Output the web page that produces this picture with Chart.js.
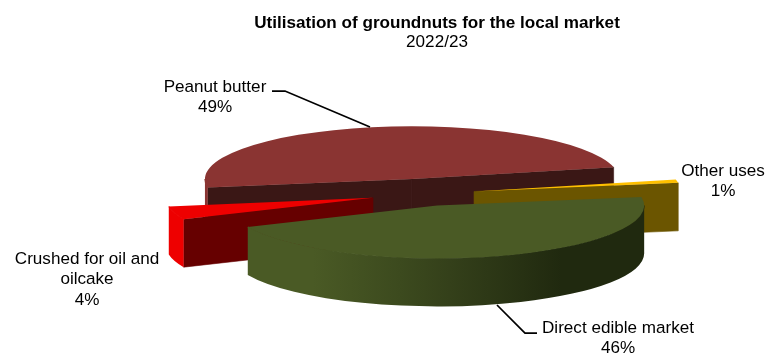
<!DOCTYPE html>
<html>
<head>
<meta charset="utf-8">
<style>
  html, body { margin: 0; padding: 0; background: #fff; overflow: hidden; }
</style>
<script src="https://cdn.jsdelivr.net/npm/chart.js@4"></script>
</head>
<body>
<canvas id="pie_chart" width="767" height="353"></canvas>
<script>
// CHART DATA
const slice_names = ['Peanut butter', 'Other uses', 'Direct edible market', 'Crushed for oil and oilcake'];
const slice_values = [49, 1, 46, 4];
const chart_title = 'Utilisation of groundnuts for the local market';
const chart_subtitle = '2022/23';

// SLICE STYLES (same order as the data)
const top_colors = ['#8a3432', '#ffc000', '#4a5a25', '#ee0000'];
const edge_colors = ['#3a1715', '#6b5500', '#20290f', '#660000'];
const explode = [60, 51.4, 47.5, 52.8];

// 3D LOOK
const pie_radius = 207;
const tilt = 0.255;
const depth = 48;
const pie_shift_x = -13.4;

// LABEL PLACES
const label_font = '17.1px "Liberation Sans"';
const label_lines = [
	{ slice: 0, x: 215, y: 87, text: ['Peanut butter'] },
	{ slice: 1, x: 723, y: 171, text: ['Other uses'] },
	{ slice: 2, x: 618, y: 328, text: ['Direct edible market'] },
	{ slice: 3, x: 87, y: 259, text: ['Crushed for oil and', 'oilcake'] }
];
const leaders = [
	[[272, 91], [285, 91], [370, 127]],
	[[497, 305], [525, 333], [537, 333]]
];

// angle ranges of the rim that face the viewer
function frontRanges(start, end) {
	let ranges = [];
	for (let k = -2; k <= 2; k++) {
		let a = Math.max(start, 2 * Math.PI * k);
		let b = Math.min(end, Math.PI + 2 * Math.PI * k);
		if (b > a) ranges.push([a, b]);
	}
	return ranges;
}

function drawSpoke(ctx, x, y, r, angle) {
	let ex = x + Math.cos(angle) * r;
	let ey = y + Math.sin(angle) * r * tilt;
	ctx.beginPath();
	ctx.moveTo(x, y);
	ctx.lineTo(ex, ey);
	ctx.lineTo(ex, ey + depth);
	ctx.lineTo(x, y + depth);
	ctx.closePath();
	ctx.fill();
	ctx.stroke(); // hides the seam where two spokes meet
}

function drawRim(ctx, x, y, r, a, b) {
	ctx.beginPath();
	ctx.ellipse(x, y, r, r * tilt, 0, a, b);
	ctx.ellipse(x, y + depth, r, r * tilt, 0, b, a, true);
	ctx.closePath();
	ctx.fill();
	// cover the seam under the top face
	ctx.beginPath();
	ctx.ellipse(x, y, r, r * tilt, 0, a, b);
	ctx.stroke();
}

function rimFill(ctx, i, x, r) {
	if (i != 2) return top_colors[i];
	// only the big green slice has the shaded rim
	let grad = ctx.createLinearGradient(x - r, 0, x + r, 0);
	grad.addColorStop(0, '#4a5a25');
	grad.addColorStop(0.2, '#4a5a25');
	grad.addColorStop(0.41, '#3c4a1e');
	grad.addColorStop(0.53, '#34401a');
	grad.addColorStop(0.8, '#20290f');
	grad.addColorStop(1, '#20290f');
	return grad;
}

const pie3d = {
	id: 'pie3d',
	beforeDatasetDraw(chart) {
		const ctx = chart.ctx;
		const arcs = chart.getDatasetMeta(0).data;
		// back to front
		[0, 1, 3, 2].forEach(i => {
			const arc = arcs[i];
			const mid = (arc.startAngle + arc.endAngle) / 2;
			const x = arc.x + pie_shift_x + Math.cos(mid) * explode[i];
			const y = arc.y + Math.sin(mid) * explode[i] * tilt;
			const r = arc.outerRadius;

			ctx.save();
			ctx.fillStyle = edge_colors[i];
			ctx.strokeStyle = edge_colors[i];
			ctx.lineWidth = 0.6;
			if (Math.cos(arc.startAngle) < 0) drawSpoke(ctx, x, y, r, arc.startAngle);
			if (Math.cos(arc.endAngle) > 0) drawSpoke(ctx, x, y, r, arc.endAngle);
			ctx.fillStyle = rimFill(ctx, i, x, r);
			ctx.strokeStyle = ctx.fillStyle;
			ctx.lineWidth = 1.2;
			frontRanges(arc.startAngle, arc.endAngle).forEach(range => drawRim(ctx, x, y, r, range[0], range[1]));
			ctx.restore();

			ctx.save();
			ctx.translate(x, y);
			ctx.scale(1, tilt);
			ctx.translate(-arc.x, -arc.y);
			arc.draw(ctx);
			ctx.restore();
		});
		return false;
	},
	afterDraw(chart) {
		const ctx = chart.ctx;
		ctx.save();
		ctx.strokeStyle = '#000';
		ctx.lineWidth = 1.75;
		leaders.forEach(points => {
			ctx.beginPath();
			points.forEach((p, n) => n ? ctx.lineTo(p[0], p[1]) : ctx.moveTo(p[0], p[1]));
			ctx.stroke();
		});
		ctx.fillStyle = '#000';
		ctx.font = label_font;
		ctx.textAlign = 'center';
		ctx.textBaseline = 'middle';
		label_lines.forEach(label => {
			let lines = label.text.concat(slice_values[label.slice] + '%');
			lines.forEach((line, n) => ctx.fillText(line, label.x, label.y + n * 20.5));
		});
		ctx.restore();
	}
};

new Chart(document.getElementById('pie_chart').getContext('2d'), {
	type: 'pie',
	data: {
		labels: slice_names,
		datasets: [{
			data: slice_values,
			backgroundColor: top_colors,
			borderWidth: 0
		}]
	},
	options: {
		responsive: false,
		animation: false,
		radius: pie_radius,
		rotation: 260.6,
		layout: { padding: { left: 107, bottom: 16.2 } },
		plugins: {
			legend: { display: false },
			tooltip: { enabled: false },
			title: {
				display: true,
				text: chart_title,
				color: '#000',
				font: { family: '"Liberation Sans"', size: 17.1, weight: 'bold', lineHeight: 1.1 },
				padding: { top: 13.6, bottom: 0 }
			},
			subtitle: {
				display: true,
				text: chart_subtitle,
				color: '#000',
				font: { family: '"Liberation Sans"', size: 17.1, weight: 'normal', lineHeight: 1.1 },
				padding: { top: 0, bottom: 0 }
			}
		}
	},
	plugins: [pie3d]
});
</script>
</body>
</html>
